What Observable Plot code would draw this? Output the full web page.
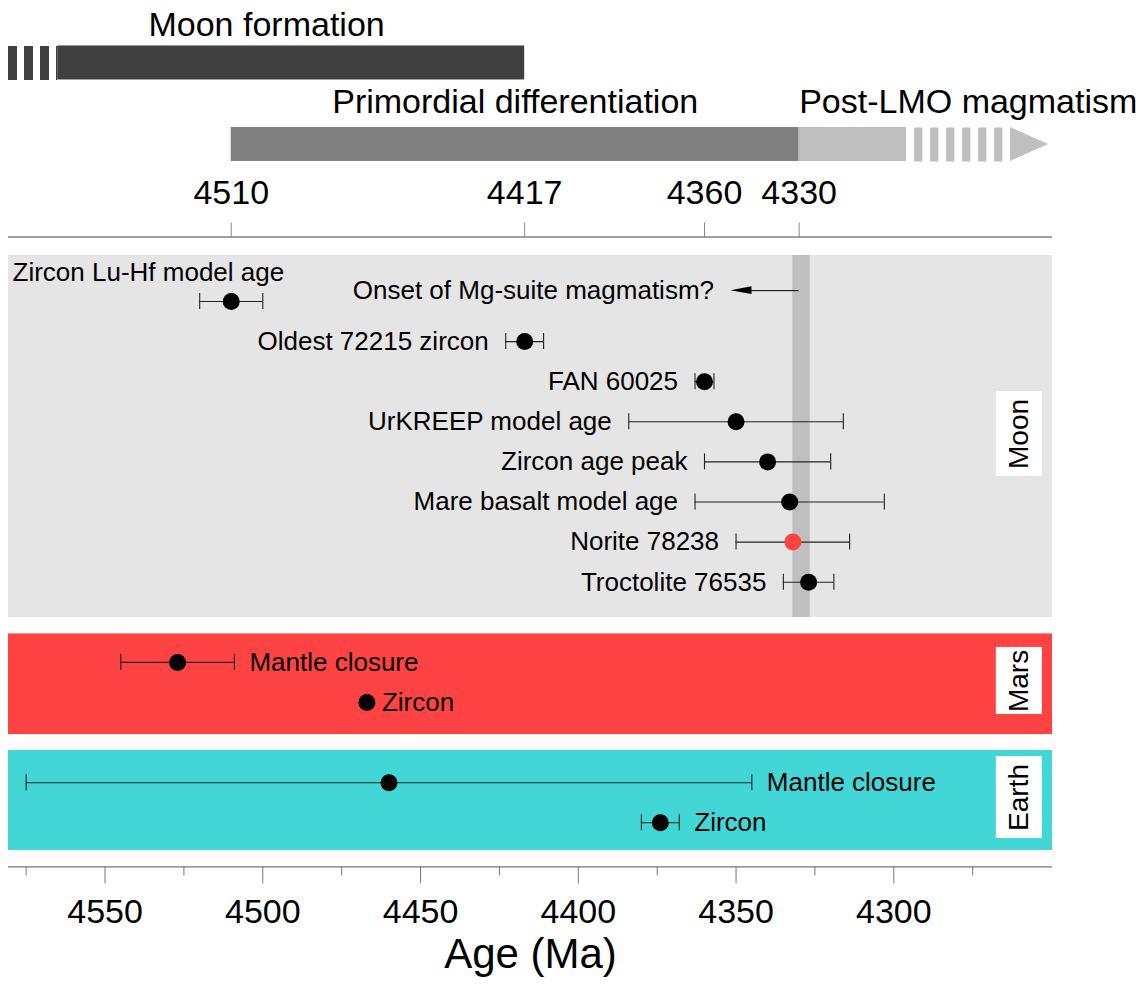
<!DOCTYPE html>
<html>
<head>
<meta charset="utf-8">
<script src="https://cdn.jsdelivr.net/npm/d3@7"></script>
<script src="https://cdn.jsdelivr.net/npm/@observablehq/plot@0.6"></script>
<style>
  body { margin: 0; background: #fff; }
  #chart svg { display: block; }
</style>
</head>
<body>
<div id="chart"></div>
<script>
// ---------------- DATA ----------------
// Moon ages (Ma) and symmetric uncertainties
const moonNames = ["Zircon Lu-Hf model age", "Oldest 72215 zircon", "FAN 60025", "UrKREEP model age",
                   "Zircon age peak", "Mare basalt model age", "Norite 78238", "Troctolite 76535"];
const moonAges  = [4510, 4417, 4360, 4350, 4340, 4333, 4332, 4327];
const moonErrs  = [10, 6, 3, 34, 20, 30, 18, 8];
const moonHighlight = "Norite 78238";

const marsNames = ["Mantle closure", "Zircon"];
const marsAges  = [4527, 4467];
const marsErrs  = [18, 0];

const earthNames = ["Mantle closure", "Zircon"];
const earthAges  = [4460, 4374];
const earthErrs  = [115, 6];

// Grey band in the Moon panel
const bandAges = [4332, 4326.5];

// Onset arrow
const onsetLabel = "Onset of Mg-suite magmatism?";
const onsetFrom = 4330;
const onsetTo = 4351.6;

// Periods on top (solid parts)
const periodNames = ["Moon formation", "Primordial differentiation", "Post-LMO magmatism"];
const periodStart = [4565, 4510, 4330];
const periodEnd   = [4417, 4330, 4296];
// uncertain (dashed) extensions
const moonFormationDashed = [4580.6, 4565];
const postLmoDashed = [4293.4, 4263];
const postLmoArrowTip = 4250.9;

// Axis ticks
const topTicks = [4510, 4417, 4360, 4330];
const bottomTicks = [4550, 4500, 4450, 4400, 4350, 4300];
const minorTicks = [4575, 4525, 4475, 4425, 4375, 4325, 4275];

const bodies = ["Moon", "Mars", "Earth"];

// ---------------- LAYOUT (row units on the y scale) ----------------
const xDomain = [4580.6, 4249.7];
const yDomain = [-1.608, 14.1];
const moonRows = moonNames.map((d, i) => i);
const marsRows = [9, 10];
const earthRows = [12, 13];
const panelRows = [[-1.147, 7.88], [8.29, 10.80], [11.197, 13.69]];
const bodyBoxRows = [[2.244, 4.364], [8.628, 10.299], [11.347, 13.392]];
const bodyBoxX = [4267.5, 4252.9];
const bodyLabelX = 4260.2;
const laneRows = [-5.948, -3.915];
const laneHalf = 0.424;
const periodLabelRows = [-6.9, -4.96, -4.96];
const onsetRow = -0.27;
const firstLabelRow = -0.72;
const capHalf = 0.2;
const headLen = 6.66;   // arrowhead length in Ma
const headHalf = 0.095; // arrowhead half-width in rows

const panelColors = ["#e5e5e5", "#ff4343", "#42d6d6"];
const periodColors = ["#404040", "#808080", "#bfbfbf"];

// ---------------- BUILD TABLES ----------------
const points = [
  ...moonNames.map((n, i) => ({body: "Moon", name: n, age: moonAges[i], err: moonErrs[i], row: moonRows[i]})),
  ...marsNames.map((n, i) => ({body: "Mars", name: n, age: marsAges[i], err: marsErrs[i], row: marsRows[i]})),
  ...earthNames.map((n, i) => ({body: "Earth", name: n, age: earthAges[i], err: earthErrs[i], row: earthRows[i]}))
];
const withErr = points.filter(d => d.err > 0);
const moonLabeled = points.filter(d => d.body === "Moon" && d.row > 0);
const moonFirst = points.filter(d => d.body === "Moon" && d.row === 0);
const planetPts = points.filter(d => d.body !== "Moon");

const panels = bodies.map((b, i) => ({body: b, y1: panelRows[i][0], y2: panelRows[i][1], fill: panelColors[i]}));
const boxes = bodies.map((b, i) => ({body: b, y1: bodyBoxRows[i][0], y2: bodyBoxRows[i][1]}));

const periods = periodNames.map((n, i) => ({name: n, start: periodStart[i], end: periodEnd[i], row: laneRows[Math.min(i, 1)], color: periodColors[i]}));
const centeredPeriodLabels = [
  {name: periodNames[0], x: (moonFormationDashed[0] + periodEnd[0]) / 2, row: periodLabelRows[0]},
  {name: periodNames[1], x: (periodStart[1] + periodEnd[1]) / 2, row: periodLabelRows[1]}
];
const startPeriodLabels = [
  {name: periodNames[2], x: periodStart[2], row: periodLabelRows[2]}
];
const bigHead = [
  {x: postLmoDashed[1], y1: laneRows[1] - laneHalf, y2: laneRows[1] + laneHalf},
  {x: postLmoArrowTip, y1: laneRows[1], y2: laneRows[1]}
];
const smallHead = [
  {x: onsetTo - headLen, y1: onsetRow - headHalf, y2: onsetRow + headHalf},
  {x: onsetTo, y1: onsetRow, y2: onsetRow}
];

const FONT = '"Liberation Sans", Arial, Helvetica, sans-serif';

const chart = Plot.plot({
  width: 1146,
  height: 984,
  marginTop: 236.5,
  marginBottom: 117.6,
  marginLeft: 8,
  marginRight: 94,
  style: {fontFamily: FONT, background: "#fff", color: "#000"},
  x: {domain: xDomain, label: null},
  y: {domain: yDomain, range: [236.5, 866.4], axis: null, label: null},
  marks: [
    // panels
    Plot.rect(panels, {x1: xDomain[0], x2: xDomain[1], y1: "y1", y2: "y2", fill: "fill"}),
    // band
    Plot.rect([bandAges], {x1: d => d[0], x2: d => d[1], y1: panelRows[0][0], y2: panelRows[0][1], fill: "#bfbfbf"}),

    // top period bars
    Plot.rect(periods, {x1: "start", x2: "end", y1: d => d.row - laneHalf, y2: d => d.row + laneHalf, fill: "color"}),
    Plot.ruleY([laneRows[0]], {x1: moonFormationDashed[0], x2: moonFormationDashed[1], stroke: periodColors[0], strokeWidth: 34, strokeDasharray: "9 7"}),
    Plot.ruleY([laneRows[1]], {x1: postLmoDashed[0], x2: postLmoDashed[1], stroke: periodColors[2], strokeWidth: 34, strokeDasharray: "8.3 7.7"}),
    Plot.areaY(bigHead, {x: "x", y1: "y1", y2: "y2", fill: periodColors[2]}),
    Plot.text(centeredPeriodLabels, {x: "x", y: "row", text: "name", textAnchor: "middle", fontSize: 34, fill: "#000"}),
    Plot.text(startPeriodLabels, {x: "x", y: "row", text: "name", textAnchor: "start", fontSize: 34, fill: "#000"}),

    // axes lines
    Plot.ruleY([yDomain[0]], {stroke: "#444", strokeWidth: 1.2}),
    Plot.ruleY([yDomain[1]], {stroke: "#777", strokeWidth: 1.2}),
    Plot.axisX({anchor: "top", ticks: topTicks, tickSize: 15, tickPadding: 29, fontSize: 34, lineAnchor: "middle",
                stroke: "#888", tickFormat: d => String(d), label: null}),
    Plot.axisX({anchor: "bottom", ticks: bottomTicks, tickSize: 17, tickPadding: 28, fontSize: 34, lineAnchor: "middle",
                stroke: "#777", tickFormat: d => String(d), label: null}),
    Plot.axisX({anchor: "bottom", ticks: minorTicks, tickSize: 9, stroke: "#777", tickFormat: () => "", label: null}),
    Plot.text(["Age (Ma)"], {frameAnchor: "bottom", dy: 101, fontSize: 42, fill: "#000"}),

    // error bars
    Plot.ruleY(withErr, {y: "row", x1: d => d.age + d.err, x2: d => d.age - d.err, stroke: "#222", strokeWidth: 1.1}),
    Plot.ruleX(withErr, {x: d => d.age + d.err, y1: d => d.row - capHalf, y2: d => d.row + capHalf, stroke: "#222", strokeWidth: 1.1}),
    Plot.ruleX(withErr, {x: d => d.age - d.err, y1: d => d.row - capHalf, y2: d => d.row + capHalf, stroke: "#222", strokeWidth: 1.1}),

    // points
    Plot.dot(points, {x: "age", y: "row", r: 8.5, fill: d => d.name === moonHighlight && d.body === "Moon" ? "#ff4343" : "#000", stroke: "none"}),

    // onset arrow
    Plot.ruleY([onsetRow], {x1: onsetFrom, x2: onsetTo - 3, stroke: "#000", strokeWidth: 1}),
    Plot.areaY(smallHead, {x: "x", y1: "y1", y2: "y2", fill: "#000"}),
    Plot.text([onsetLabel], {x: onsetTo, y: onsetRow, text: d => d, textAnchor: "end", dx: -17, fontSize: 26, fill: "#000"}),

    // labels
    Plot.text(moonFirst, {x: xDomain[0], y: firstLabelRow, text: "name", textAnchor: "start", dx: 4, fontSize: 26, fill: "#000"}),
    Plot.text(moonLabeled, {x: d => d.age + d.err, y: "row", text: "name", textAnchor: "end", dx: -17, fontSize: 26, fill: "#000"}),
    Plot.text(planetPts, {x: d => d.age - d.err, y: "row", text: "name", textAnchor: "start", dx: 15, fontSize: 26, fill: "#000"}),

    // body labels
    Plot.rect(boxes, {x1: bodyBoxX[0], x2: bodyBoxX[1], y1: "y1", y2: "y2", fill: "#fff"}),
    Plot.text(boxes, {x: bodyLabelX, y: d => (d.y1 + d.y2) / 2, text: "body", rotate: -90, fontSize: 28, fill: "#000"})
  ]
});
document.getElementById("chart").appendChild(chart);
</script>
</body>
</html>
